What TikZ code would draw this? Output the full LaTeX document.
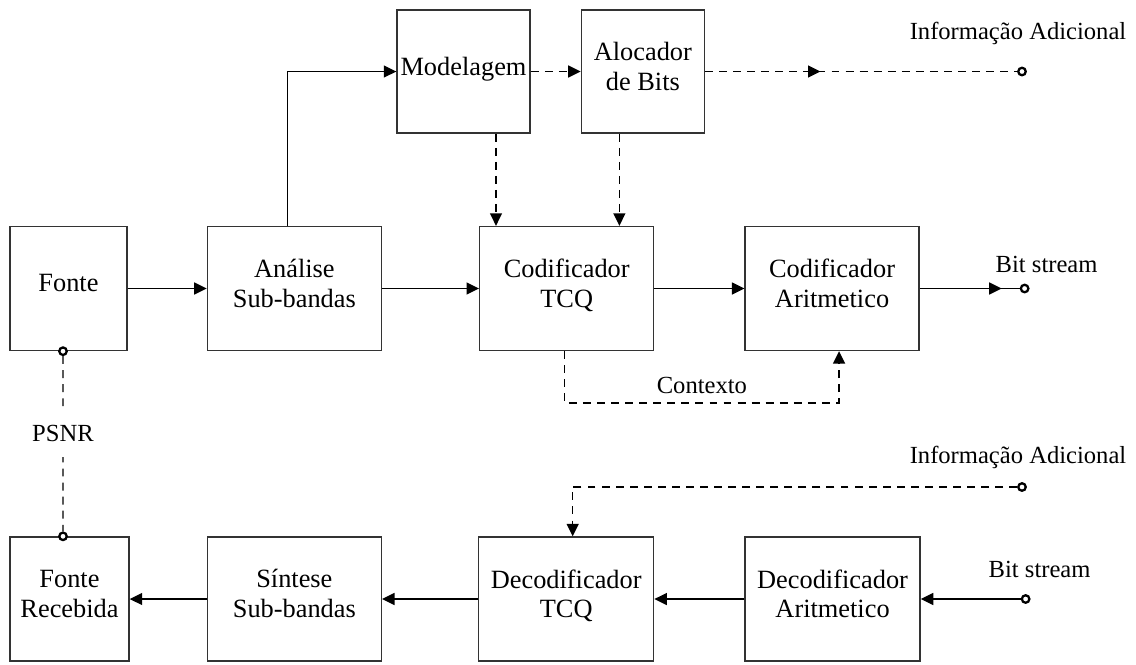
\documentclass[tikz,border=0pt]{standalone}
\usepackage{fontspec}
\setmainfont{Liberation Serif}
\usetikzlibrary{positioning, arrows.meta, calc, decorations.markings}

\begin{document}
\begin{tikzpicture}[
  x=0.02cm, y=-0.02cm,
  align=center,
  % Estilos de bloques
  box/.style={draw=black!80, rectangle, line width=0.8pt, minimum width=3.48cm, minimum height=2.48cm, inner xsep=1pt, inner ysep=2pt, text depth=6pt, font=\fontsize{15}{17}\selectfont},
  port/.style={draw, circle, line width=1.3pt, inner sep=0pt, minimum size=0.15cm, fill=white},
  lbl/.style={inner sep=0pt, font=\fontsize{14}{16}\selectfont},
  % Estilos de flechas
  line/.style={draw, line width=0.8pt, -{Triangle[length=0.25cm, width=0.24cm]}},
  dashline/.style={line, dash pattern=on 4.5pt off 3.5pt},
  midtip/.style={postaction={decorate}, decoration={markings, mark=at position #1 with {\arrow{Triangle[length=0.25cm, width=0.24cm]}}}}
]
  \useasboundingbox (0,0) rectangle (1136,664);

  % ==========================================
  % CODIFICADOR
  % ==========================================
  \node[box, minimum width=2.34cm] (fonte) at (68.5,288.5) {Fonte};
  \node[box, right=1.58cm of fonte] (analise) {Análise\\Sub-bandas};
  \node[box, right=1.94cm of analise] (codtcq) {Codificador\\TCQ};
  \node[box, right=1.8cm of codtcq] (codarit) {Codificador\\Aritmetico};

  \node[box, minimum width=2.66cm, minimum height=2.46cm] (modelagem) at (463.5,71.5) {Modelagem};
  \node[box, minimum width=2.46cm, minimum height=2.46cm, right=1.0cm of modelagem] (alocador) {Alocador\\de Bits};

  \node[port] (infoa) at (1022,71.5) {};
  \node[lbl, above=0.43cm of infoa, xshift=-0.08cm] (infoa_txt) {Informação Adicional};
  \node[port, right=2.0cm of codarit] (bitout) {};
  \node[lbl, above=0.21cm of bitout, xshift=0.44cm] (bitout_txt) {Bit stream};

  \draw[line] (fonte) -- (analise);
  \draw[line] (analise) -- (codtcq);
  \draw[line] (codtcq) -- (codarit);
  \draw[line, -, midtip=0.82] (codarit) -- (bitout);
  \draw[line] ([xshift=-0.14cm]analise.north) |- (modelagem);
  \draw[dashline] (modelagem) -- (alocador);
  \draw[dashline, -, midtip=0.37] (alocador) -- (infoa);
  \draw[dashline] ([xshift=0.65cm]modelagem.south) -- ([xshift=0.65cm]modelagem.south |- codtcq.north);
  \draw[dashline] ([xshift=-0.47cm]alocador.south) -- ([xshift=-0.47cm]alocador.south |- codtcq.north);
  \draw[dashline] ([xshift=-0.04cm]codtcq.south) -- ++(0,52) -| node[pos=0.25, lbl, above=0.18cm] {Contexto} ([xshift=0.14cm]codarit.south);

  % ==========================================
  % DECODIFICADOR
  % ==========================================
  \node[box, minimum width=2.38cm] (recebida) at (69.5,599) {Fonte\\Recebida};
  \node[box, right=1.54cm of recebida] (sintese) {Síntese\\Sub-bandas};
  \node[box, minimum width=3.5cm, right=1.92cm of sintese] (dectcq) {Decodificador\\TCQ};
  \node[box, minimum width=3.5cm, right=1.8cm of dectcq] (decarit) {Decodificador\\Aritmetico};

  \node[port] (infob) at (1022,487) {};
  \node[lbl, above=0.27cm of infob, xshift=-0.08cm] (infob_txt) {Informação Adicional};
  \node[port, right=2.0cm of decarit] (bitin) {};
  \node[lbl, above=0.33cm of bitin, xshift=0.28cm] (bitin_txt) {Bit stream};

  \draw[line] (bitin) -- (decarit);
  \draw[line] (decarit) -- (dectcq);
  \draw[line] (dectcq) -- (sintese);
  \draw[line] (sintese) -- (recebida);
  \draw[dashline] (infob) -| ([xshift=0.13cm]dectcq.north);

  % ==========================================
  % PSNR
  % ==========================================
  \node[port] (psnra) at ([xshift=-0.11cm]fonte.south) {};
  \node[port] (psnrb) at ([xshift=-0.13cm]recebida.north) {};
  \draw[dashline, -] (psnra) -- node[pos=0.44, lbl, fill=white, inner xsep=2pt, inner ysep=0.3cm] {PSNR} (psnrb);

\end{tikzpicture}
\end{document}
